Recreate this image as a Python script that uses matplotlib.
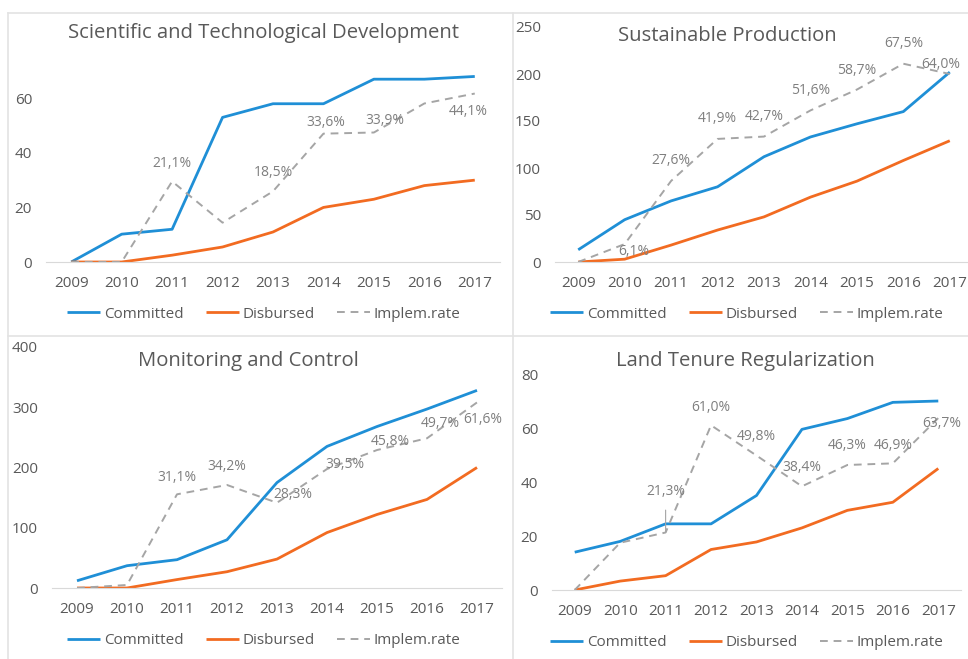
import matplotlib.pyplot as plt
from matplotlib.lines import Line2D

years = ['2009', '2010', '2011', '2012', '2013', '2014', '2015', '2016', '2017']

titles = ['Scientific and Technological Development', 'Sustainable Production',
          'Monitoring and Control', 'Land Tenure Regularization']

committed_sci = [0, 10.2, 12, 53, 58, 58, 67, 67, 68]
disbursed_sci = [0, 0, 2.5, 5.5, 11, 20, 23, 28, 30]
rate_sci = [0, 0, 21.1, 10.3, 18.5, 33.6, 33.9, 41.5, 44.1]
labels_sci = ['', '', '21,1%', '', '18,5%', '33,6%', '33,9%', '', '44,1%']

committed_sus = [13, 45, 65, 80, 112, 133, 147, 160, 202]
disbursed_sus = [0, 3, 18, 34, 48, 69, 86, 108, 129]
rate_sus = [0, 6.1, 27.6, 41.9, 42.7, 51.6, 58.7, 67.5, 64.0]
labels_sus = ['', '6,1%', '27,6%', '41,9%', '42,7%', '51,6%', '58,7%', '67,5%', '64,0%']

committed_mon = [12, 37, 47, 80, 175, 235, 268, 297, 328]
disbursed_mon = [0, 0, 14, 27, 48, 92, 122, 147, 200]
rate_mon = [0, 1.0, 31.1, 34.2, 28.3, 39.5, 45.8, 49.7, 61.6]
labels_mon = ['', '', '31,1%', '34,2%', '28,3%', '39,5%', '45,8%', '49,7%', '61,6%']

committed_land = [14, 18, 24.5, 24.5, 35, 59.5, 63.5, 69.5, 70]
disbursed_land = [0, 3.3, 5.3, 15, 17.8, 23, 29.5, 32.5, 45]
rate_land = [0, 17.5, 21.3, 61.0, 49.8, 38.4, 46.3, 46.9, 63.7]
labels_land = ['', '', '21,3%', '61,0%', '49,8%', '38,4%', '46,3%', '46,9%', '63,7%']

BLUE = '#1f8fd6'
ORANGE = '#f26b21'
GRAY = '#a5a5a5'
TXT = '#595959'

W, H = 968, 659
plt.rcParams['font.family'] = ['Open Sans', 'DejaVu Sans']
fig = plt.figure(figsize=(W / 100, H / 100), dpi=100)


def px_axes(x0, y0, x1, y1):
    return fig.add_axes([x0 / W, 1 - y1 / H, (x1 - x0) / W, (y1 - y0) / H])


# panel borders
for xs, ys in [([8, 8], [13, H]), ([513, 513], [13, H]), ([8, W], [13, 13]), ([8, W], [336, 336])]:
    fig.add_artist(Line2D([x / W for x in xs], [1 - y / H for y in ys], color='#e3e3e3', lw=1.2))

panels = [
    dict(box=(46, 71, 500, 262), ymax=70, yticks=[0, 20, 40, 60], rmax=50,
         c=committed_sci, d=disbursed_sci, r=rate_sci, lab=labels_sci,
         off=[None, None, (0, 18), None, (0, 19), (2, 11), (11, 12), None, (-7, -18)],
         title=(264, 33), leg=(264, 314)),
    dict(box=(555, 27, 973, 262), ymax=250, yticks=[0, 50, 100, 150, 200, 250], rmax=80,
         c=committed_sus, d=disbursed_sus, r=rate_sus, lab=labels_sus,
         off=[None, (9, -7), (0, 20), (0, 20), (0, 20), (0, 20), (0, 19), (0, 20), (-9, 10)],
         title=(727, 36), leg=(747, 314)),
    dict(box=(52, 347, 502, 588), ymax=400, yticks=[0, 100, 200, 300, 400], rmax=80,
         c=committed_mon, d=disbursed_mon, r=rate_mon, lab=labels_mon,
         off=[None, None, (0, 17), (0, 18), (16, 8), (18, 5), (13, 9), (13, 15), (6, -17)],
         title=(248, 361), leg=(264, 641)),
    dict(box=(552, 374, 961, 590), ymax=80, yticks=[0, 20, 40, 60, 80], rmax=80,
         c=committed_land, d=disbursed_land, r=rate_land, lab=labels_land,
         off=[None, None, (0, 41), (0, 18), (0, 19), (0, 19), (0, 19), (0, 18), (3, -5)],
         title=(745, 361), leg=(747, 643)),
]

for p, title in zip(panels, titles):
    ax = px_axes(*p['box'])
    x = range(len(years))
    l1, = ax.plot(x, p['c'], color=BLUE, lw=2.0, label='Committed', solid_capstyle='butt')
    l2, = ax.plot(x, p['d'], color=ORANGE, lw=2.0, label='Disbursed', solid_capstyle='butt')
    ax.set_xlim(-0.5, len(years) - 0.5)
    ax.set_ylim(0, p['ymax'])
    ax.set_yticks(p['yticks'])
    ax.set_xticks(list(x))
    ax.set_xticklabels(years)
    ax.tick_params(length=0, labelsize=11, colors=TXT, pad=10)
    for s in ['top', 'right', 'left']:
        ax.spines[s].set_visible(False)
    ax.spines['bottom'].set_color('#d9d9d9')
    ax.patch.set_alpha(0)

    # implementation rate on a hidden secondary axis
    ax2 = ax.twinx()
    l3, = ax2.plot(x, p['r'], color=GRAY, lw=1.4, ls=(0, (4, 3)), label='Implem.rate')
    ax2.set_ylim(0, p['rmax'])
    ax2.axis('off')
    for i, (lab, off) in enumerate(zip(p['lab'], p['off'])):
        if not lab:
            continue
        arrow = None
        if off[1] > 30:
            arrow = dict(arrowstyle='-', color=GRAY, lw=0.8, shrinkA=6, shrinkB=0)
        ax2.annotate(lab, (i, p['r'][i]), xytext=off, textcoords='offset pixels',
                     ha='center', va='center', fontsize=10, color='#7f7f7f',
                     arrowprops=arrow)

    tx, ty = p['title']
    fig.text(tx / W, 1 - ty / H, title, ha='center', va='center', fontsize=14.6, color=TXT)

    lx, ly = p['leg']
    ax.legend(handles=[l1, l2, l3], loc='center', bbox_to_anchor=(lx / W, 1 - ly / H),
              bbox_transform=fig.transFigure, ncol=3, frameon=False, fontsize=11,
              labelcolor=TXT, handlelength=2.15, handletextpad=0.25, columnspacing=1.45)

fig.savefig('out.png', dpi=100)
